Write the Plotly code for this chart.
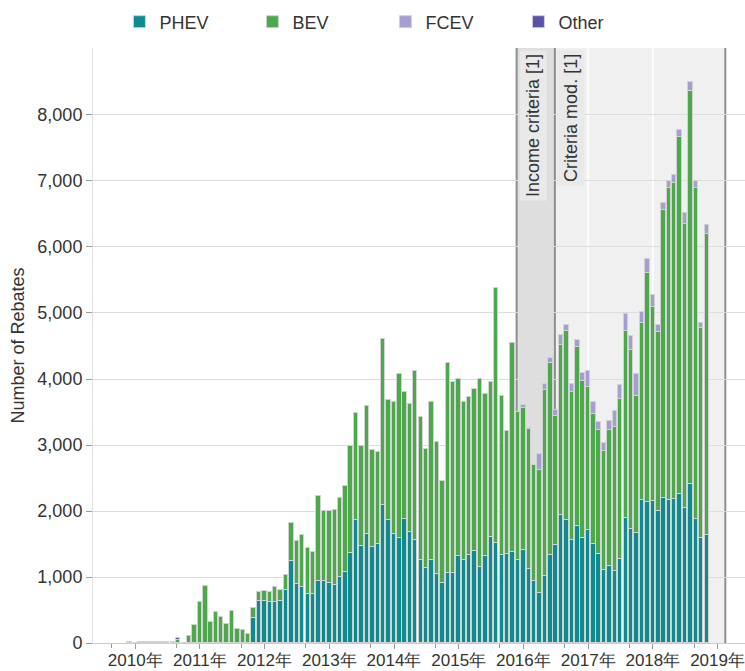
import pandas as pd
import plotly.graph_objects as go

# Monthly rebate counts, Dec 2009 - Nov 2018
months = pd.date_range("2009-12-01", "2018-11-01", freq="MS")

phev = (
    [0]
    + [0] * 12                                                          # 2010
    + [0, 0, 0, 0, 0, 0, 0, 0, 0, 0, 380, 635]                          # 2011
    + [635, 616, 616, 641, 798, 1242, 889, 853, 747, 747, 934, 934]     # 2012
    + [909, 884, 1000, 1075, 1369, 1859, 1465, 1655, 1449, 1500, 2096, 1858]  # 2013
    + [1651, 1591, 1879, 1677, 1566, 1263, 1136, 1252, 1050, 909, 1055, 1055]  # 2014
    + [1315, 1252, 1328, 1394, 1151, 1313, 1606, 1520, 1338, 1353, 1379, 1252]  # 2015
    + [1414, 1126, 939, 758, 1010, 1338, 1480, 1934, 1858, 1560, 1768, 1591]   # 2016
    + [1707, 1495, 1353, 1101, 1167, 1091, 1278, 1894, 1732, 1672, 2170, 2135]  # 2017
    + [2147, 1995, 2192, 2164, 2181, 2259, 2051, 2405, 1883, 1585, 1641]       # 2018
)
bev = (
    [15]
    + [5, 8, 8, 8, 8, 8, 8, 8, 45, 0, 100, 268]
    + [620, 865, 320, 470, 395, 295, 480, 212, 192, 131, 150, 145]
    + [160, 157, 227, 157, 237, 571, 651, 778, 692, 632, 1298, 1061]
    + [1086, 1136, 1197, 1298, 1621, 1626, 1525, 1940, 1480, 1394, 2510, 1828]
    + [1995, 2484, 1919, 1944, 2550, 2156, 1803, 2394, 1990, 1540, 3190, 2895]
    + [2680, 2399, 2399, 2459, 2854, 2454, 2348, 3863, 2404, 1854, 3171, 2248]
    + [2151, 2121, 1753, 1858, 2828, 2904, 1959, 2586, 2867, 2250, 2716, 2373]
    + [2171, 1979, 1869, 1808, 2055, 2181, 2414, 2833, 2702, 2065, 2680, 3468]
    + [2939, 2715, 4372, 4732, 4788, 5401, 4300, 5958, 5013, 3181, 4558]
)
fcev = (
    [0]
    + [0] * 12
    + [0] * 12
    + [0] * 12
    + [0] * 12
    + [0] * 12
    + [0] * 12
    + [46, 10, 10, 242, 91, 81, 86, 141, 90, 119, 111, 126]
    + [243, 177, 126, 121, 141, 238, 222, 262, 212, 333, 170, 214]
    + [186, 106, 96, 101, 123, 107, 157, 134, 101, 78, 140]
)
other = (
    [0]
    + [0, 0, 0, 0, 0, 0, 0, 0, 35, 0, 0, 0]
    + [0] * 12 * 7
    + [0] * 11
)

series = [
    ("PHEV", phev, "#0d8b91"),
    ("BEV", bev, "#4ca94b"),
    ("FCEV", fcev, "#a69ed2"),
    ("Other", other, "#5a51a8"),
]

y_ticks = [0, 1000, 2000, 3000, 4000, 5000, 6000, 7000, 8000]

font_family = "Arial, Liberation Sans, sans-serif"
bar_width_ms = 25 * 24 * 3600 * 1000

fig = go.Figure()
for name, vals, color in series:
    fig.add_trace(go.Bar(
        x=months, y=vals, name=name,
        marker=dict(color=color, line=dict(color="#d2d2d2", width=1)),
        width=bar_width_ms,
    ))

# Program-change markers
income_date = "2015-11-24"
mod_date = "2016-06-27"
end_date = "2019-02-14"

shapes = [
    dict(type="rect", xref="x", yref="paper", x0=income_date, x1=mod_date,
         y0=0, y1=1, fillcolor="#dedede", line_width=0, layer="below"),
    dict(type="rect", xref="x", yref="paper", x0=mod_date, x1=end_date,
         y0=0, y1=1, fillcolor="#f0f0f0", line_width=0, layer="below"),
]
for d in ["2017-01-01", "2018-01-01"]:
    shapes.append(dict(type="line", xref="x", yref="paper", x0=d, x1=d, y0=0, y1=1,
                       line=dict(color="white", width=1.5), layer="below"))
for d in [income_date, mod_date, end_date]:
    shapes.append(dict(type="line", xref="x", yref="paper", x0=d, x1=d, y0=0, y1=1,
                       line=dict(color="#8e8e8e", width=2), layer="below"))

annotations = []
for d, label in [(income_date, "Income criteria [1]"), (mod_date, "Criteria mod. [1]")]:
    annotations.append(dict(
        x=d, xref="x", y=1, yref="paper", text=label, textangle=-90,
        xanchor="left", yanchor="top", xshift=2, yshift=-2, showarrow=False,
        bgcolor="#e9e9e9", borderpad=3,
        font=dict(family=font_family, size=18, color="#333333"),
    ))

fig.update_layout(
    width=745, height=671,
    margin=dict(l=93, r=0, t=48, b=28, autoexpand=False),
    barmode="stack",
    bargap=0,
    plot_bgcolor="white",
    paper_bgcolor="white",
    font=dict(family=font_family, size=18, color="#333333"),
    shapes=shapes,
    annotations=annotations,
    legend=dict(
        orientation="h", x=0.0405, xanchor="left", y=1.0437, yanchor="middle",
        entrywidth=88, entrywidthmode="pixels",
        font=dict(family=font_family, size=18, color="#333333"),
        traceorder="normal",
    ),
    xaxis=dict(
        type="date",
        range=["2009-05-08", "2019-06-05"],
        tickmode="linear", tick0="2010-01-01", dtick="M12",
        tickformat="%Y年",
        ticks="outside", ticklen=5, tickcolor="#999999",
        ticklabelstandoff=-3,
        showgrid=False, showline=True, linecolor="#cccccc", linewidth=1,
        automargin=False,
        tickfont=dict(family=font_family, size=17, color="#333333"),
        minor=dict(tickvals=[f"{y}-08-22" for y in range(2009, 2019)],
                   ticks="outside", ticklen=4, tickcolor="#999999", showgrid=False),
    ),
    yaxis=dict(
        title=dict(text="Number of Rebates", font=dict(family=font_family, size=18, color="#333333"),
                   standoff=8),
        range=[0, 9015],
        tickmode="array", tickvals=y_ticks,
        tickformat=",d",
        ticks="outside", ticklen=6, tickcolor="#999999",
        showgrid=True, gridcolor="#dcdcdc", gridwidth=1,
        zeroline=False, showline=True, linecolor="#e0e0e0", linewidth=1,
        automargin=False,
        tickfont=dict(family=font_family, size=18, color="#333333"),
    ),
)

fig.write_html("out.html")
